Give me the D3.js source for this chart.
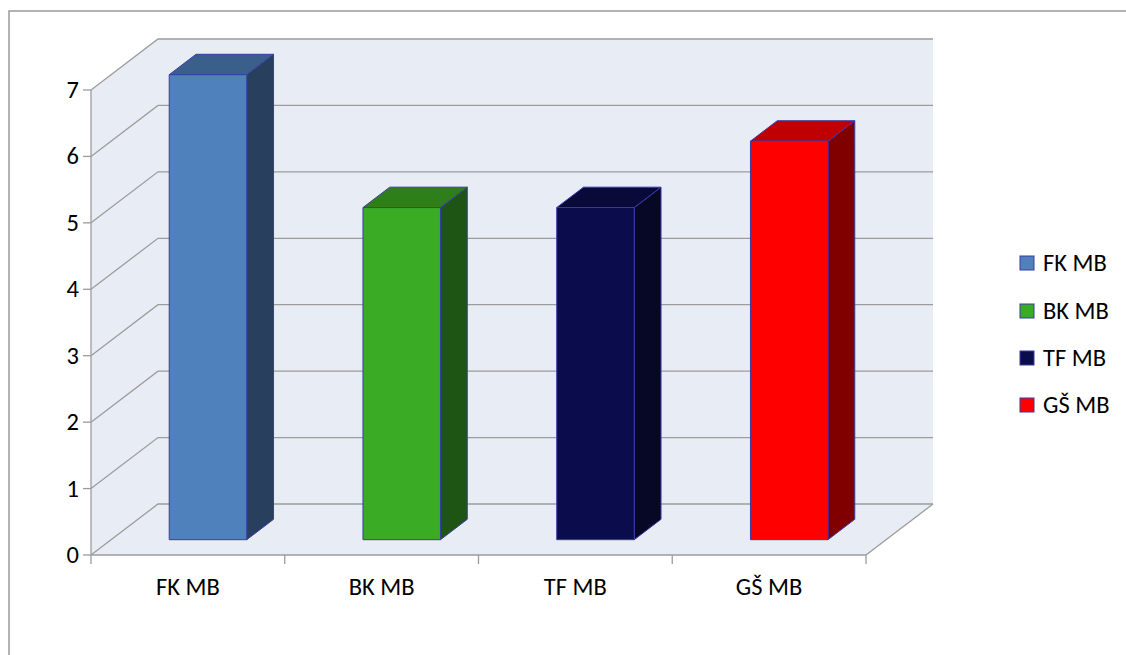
<!DOCTYPE html>
<html>
<head>
<meta charset="utf-8">
<script src="https://cdn.jsdelivr.net/npm/d3@7"></script>
<style>
  html, body { margin: 0; padding: 0; background: #fff; }
  svg { display: block; }
  text { font-family: Carlito, Calibri, Lato, "Open Sans", sans-serif; fill: #000; }
</style>
</head>
<body>
<svg id="chart" width="1126" height="655"></svg>
<script>
// Chart data
const categories = ["FK MB", "BK MB", "TF MB", "GŠ MB"];
const values = [7, 5, 5, 6];
const yTicks = [0, 1, 2, 3, 4, 5, 6, 7];
const frontColors = ["#4f81bd", "#3aab25", "#0b0c4b", "#ff0000"];
const topColors = ["#3a5f8b", "#2e7f1b", "#09093a", "#c00000"];
const sideColors = ["#283f5e", "#1f5514", "#070726", "#800000"];

const svg = d3.select("#chart");
const fontSize = 24.5;

// Plot geometry: front plane of the floor plus a receding depth offset
const x0 = 91, x1 = 866, yBase = 555, yTop = 90;
const DX = 67, DY = -51;          // full-depth offset
const barFront = 0.3, barBack = 0.7;

const x = d3.scaleBand().domain(categories).range([x0, x1])
  .paddingInner(0.6).paddingOuter(0.3);
const y = d3.scaleLinear().domain([0, 7]).range([yBase, yTop]);

// project (screen x at front, value, depth fraction) -> screen point
const P = (px, v, d) => [px + d * DX, y(v) + d * DY];
const poly = pts => "M" + pts.map(p => p.join(",")).join("L") + "Z";
const line = pts => "M" + pts.map(p => p.join(",")).join("L");

// Outer chart border (only left and top fall inside the frame)
svg.append("path")
  .attr("d", "M9,660 L9,11 L1130,11")
  .attr("fill", "none").attr("stroke", "#9a9a9a").attr("stroke-width", 1.5);

const wallFill = "#e8ecf4";
const grid = "#9c9c9c";

// Walls and floor
svg.append("path").attr("d", poly([P(x0, 0, 0), P(x0, 7, 0), P(x0, 7, 1), P(x0, 0, 1)]))
  .attr("fill", wallFill);
svg.append("path").attr("d", poly([P(x0, 0, 1), P(x0, 7, 1), P(x1, 7, 1), P(x1, 0, 1)]))
  .attr("fill", wallFill);
svg.append("path").attr("d", poly([P(x0, 0, 0), P(x1, 0, 0), P(x1, 0, 1), P(x0, 0, 1)]))
  .attr("fill", wallFill);

// Gridlines across the side wall and back wall
const g = svg.append("g").attr("fill", "none").attr("stroke", grid).attr("stroke-width", 1.3);
yTicks.forEach(v => {
  g.append("path").attr("d", line([P(x0, v, 0), P(x0, v, 1), P(x1, v, 1)]));
});
// Floor right edge
g.append("path").attr("d", line([P(x1, 0, 0), P(x1, 0, 1)]));

// Value axis
const ax = svg.append("g").attr("stroke", grid).attr("stroke-width", 1.3);
ax.append("line").attr("x1", x0).attr("x2", x0).attr("y1", y(7)).attr("y2", y(0));
yTicks.forEach(v => {
  ax.append("line").attr("x1", x0 - 8).attr("x2", x0).attr("y1", y(v)).attr("y2", y(v));
});
svg.append("g").selectAll("text").data(yTicks).join("text")
  .attr("x", 79).attr("y", d => y(d)).attr("text-anchor", "end")
  .attr("dominant-baseline", "central").attr("font-size", fontSize)
  .text(d => d);

// Category axis
ax.append("line").attr("x1", x0).attr("x2", x1).attr("y1", yBase).attr("y2", yBase);
const step = x.step();
d3.range(categories.length + 1).forEach(i => {
  const tx = x0 + i * step;
  ax.append("line").attr("x1", tx).attr("x2", tx).attr("y1", yBase).attr("y2", yBase + 9);
});
svg.append("g").selectAll("text").data(categories).join("text")
  .attr("x", (d, i) => x0 + (i + 0.5) * step).attr("y", 587)
  .attr("text-anchor", "middle").attr("dominant-baseline", "central")
  .attr("font-size", fontSize).text(d => d);

// 3D bars
const bw = x.bandwidth();
const bars = svg.append("g").attr("stroke", "#3b3ba6").attr("stroke-width", 1)
  .attr("stroke-linejoin", "round");
categories.forEach((c, i) => {
  const l = x(c), r = l + bw, v = values[i];
  bars.append("path").attr("fill", sideColors[i])
    .attr("d", poly([P(r, 0, barFront), P(r, v, barFront), P(r, v, barBack), P(r, 0, barBack)]));
  bars.append("path").attr("fill", topColors[i])
    .attr("d", poly([P(l, v, barFront), P(r, v, barFront), P(r, v, barBack), P(l, v, barBack)]));
  bars.append("path").attr("fill", frontColors[i])
    .attr("d", poly([P(l, 0, barFront), P(r, 0, barFront), P(r, v, barFront), P(l, v, barFront)]));
});

// Legend
const legendY = [263, 311, 358, 405];
const lg = svg.append("g");
categories.forEach((c, i) => {
  lg.append("rect").attr("x", 1020).attr("y", legendY[i] - 7).attr("width", 14).attr("height", 14)
    .attr("fill", frontColors[i]).attr("stroke", "#3b3ba6").attr("stroke-width", 1);
  lg.append("text").attr("x", 1043).attr("y", legendY[i])
    .attr("dominant-baseline", "central").attr("font-size", fontSize).text(c);
});
</script>
</body>
</html>
